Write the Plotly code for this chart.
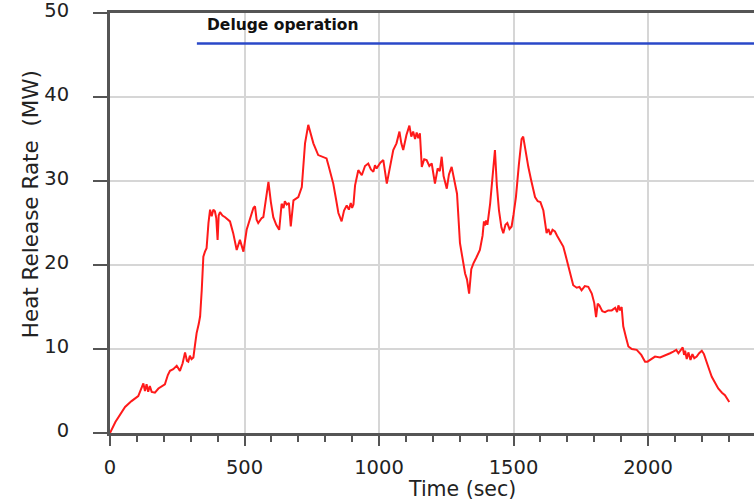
import plotly.graph_objects as go

# Heat release rate history of the fire test
time_s = [
    0, 20, 56, 80, 105, 118, 124, 130, 136, 142, 148, 155, 167, 180, 192, 204, 215, 223, 235, 248,
    260, 270, 279, 286, 291, 297, 303, 310, 316, 322, 330, 335, 341, 347, 353, 359, 366, 372, 378, 384,
    390, 395, 400, 404, 409, 418, 428, 446, 458, 471, 483, 490, 496, 508, 520, 533, 539, 545, 551, 564,
    570, 580, 589, 598, 607, 618, 629, 638, 645, 650, 657, 665, 672, 682, 700, 713, 725, 737, 745, 756,
    774, 793, 805, 812, 820, 830, 840, 849, 861, 870, 880, 888, 895, 900, 905, 911, 923, 936, 948, 960,
    970, 979, 985, 991, 1005, 1016, 1029, 1040, 1053, 1065, 1076, 1083, 1090, 1102, 1113, 1120, 1127, 1134, 1140, 1146,
    1152, 1159, 1168, 1177, 1187, 1196, 1208, 1218, 1226, 1233, 1240, 1252, 1260, 1270, 1283, 1290, 1301, 1310, 1320, 1327,
    1335, 1343, 1351, 1362, 1375, 1385, 1390, 1394, 1398, 1403, 1413, 1422, 1431, 1438, 1446, 1455, 1462, 1470, 1477, 1485,
    1493, 1500, 1509, 1520, 1530, 1536, 1545, 1555, 1565, 1580, 1590, 1600, 1611, 1617, 1623, 1630, 1637, 1645, 1654, 1662,
    1670, 1685, 1695, 1704, 1712, 1722, 1735, 1745, 1753, 1765, 1778, 1791, 1800, 1807, 1813, 1819, 1830, 1840, 1852, 1865,
    1878, 1885, 1890, 1896, 1902, 1908, 1918, 1927, 1940, 1958, 1975, 1989, 1998, 2010, 2026, 2045, 2063, 2082, 2094, 2105,
    2113, 2122, 2129, 2134, 2138, 2144, 2150, 2158, 2165, 2172, 2181, 2190, 2200, 2208, 2218, 2228, 2237, 2248, 2261, 2275,
    2286, 2302,
]
hrr_mw = [
    0.0, 1.3, 3.1, 3.8, 4.4, 5.3, 5.9, 5.0, 5.8, 4.9, 5.6, 4.9, 4.8, 5.3, 5.6, 5.8, 6.9, 7.4, 7.6, 8.0,
    7.4, 8.3, 9.6, 8.6, 8.5, 9.2, 8.8, 9.0, 10.5, 11.9, 13.0, 13.9, 17.0, 21.0, 21.6, 22.0, 25.0, 26.6, 25.8, 26.6,
    26.4, 25.6, 23.0, 25.9, 26.3, 25.9, 25.7, 25.2, 23.8, 21.8, 23.0, 22.3, 21.6, 24.2, 25.5, 26.8, 27.0, 25.4, 25.0, 25.6,
    25.7, 27.8, 29.9, 27.5, 25.7, 24.8, 24.2, 27.3, 26.8, 27.6, 27.2, 27.4, 24.6, 27.7, 28.1, 29.3, 34.5, 36.7, 35.8, 34.5,
    33.1, 32.9, 32.7, 31.9, 31.0, 29.7, 27.9, 26.2, 25.2, 26.5, 27.1, 26.6, 27.4, 26.8, 27.2, 29.5, 31.3, 30.7, 31.8, 32.1,
    31.4, 31.1, 31.9, 31.5, 32.2, 32.5, 29.7, 31.5, 33.7, 34.5, 35.9, 34.5, 33.7, 35.5, 36.6, 35.3, 35.9, 35.0, 35.8, 35.1,
    35.7, 31.7, 32.6, 32.5, 31.8, 32.1, 29.7, 31.5, 31.2, 32.9, 30.6, 29.1, 30.8, 31.7, 29.7, 28.5, 22.6, 20.7, 19.0, 18.3,
    16.6, 19.5, 20.2, 20.9, 21.8, 23.5, 25.2, 24.7, 25.3, 24.8, 27.3, 30.5, 33.7, 29.5, 26.5, 24.5, 23.8, 24.8, 25.0, 24.3,
    24.6, 26.0, 28.1, 32.0, 35.0, 35.3, 33.5, 31.7, 30.2, 28.1, 27.6, 27.5, 26.5, 25.0, 23.8, 24.3, 23.6, 24.2, 24.0, 23.5,
    23.0, 22.2, 21.0, 19.8, 18.7, 17.6, 17.3, 17.4, 17.0, 17.5, 17.4, 16.6, 15.5, 13.8, 15.4, 15.2, 14.5, 14.4, 14.6, 14.6,
    14.9, 14.4, 15.2, 14.6, 15.0, 12.7, 11.4, 10.3, 10.0, 9.9, 9.3, 8.5, 8.5, 8.8, 9.1, 9.0, 9.2, 9.5, 9.7, 9.9,
    9.5, 9.9, 10.2, 9.3, 9.8, 8.8, 9.6, 8.7, 9.4, 8.9, 9.1, 9.5, 9.8, 9.4, 8.3, 7.5, 6.7, 6.0, 5.3, 4.8,
    4.5, 3.7,
]

# Deluge system active period
deluge_time = [323, 2394]
deluge_level = [46.4, 46.4]
deluge_label = "Deluge operation"

x_ticks = [0, 500, 1000, 1500, 2000]
y_ticks = [0, 10, 20, 30, 40, 50]

FONT = "DejaVu Sans"
TEXT = "#222222"
AXIS = "#555555"
GRID = "#d6d6d6"

fig = go.Figure()

fig.add_trace(go.Scatter(
    x=time_s, y=hrr_mw, mode="lines",
    line=dict(color="#ff1a1a", width=2),
    showlegend=False, hoverinfo="skip", cliponaxis=False,
))

fig.add_trace(go.Scatter(
    x=deluge_time, y=deluge_level, mode="lines",
    line=dict(color="#2a48c8", width=2.5),
    showlegend=False, hoverinfo="skip",
))

fig.add_annotation(
    x=353, y=48.6, xref="x", yref="y", text=deluge_label, showarrow=False,
    xanchor="left", yanchor="middle",
    font=dict(family=FONT, size=15.5, color="#111111", weight="bold"),
)

# Axis titles
fig.add_annotation(
    x=0.5466, y=-0.1335, xref="paper", yref="paper", text="Time (sec)",
    showarrow=False, xanchor="center", yanchor="middle",
    font=dict(family=FONT, size=20.5, color=TEXT),
)
fig.add_annotation(
    x=-0.124, y=0.545, xref="paper", yref="paper", text="Heat Release Rate  (MW)",
    showarrow=False, xanchor="center", yanchor="middle", textangle=-90,
    font=dict(family=FONT, size=21.5, color=TEXT),
)

fig.update_xaxes(
    range=[0, 2394], tickvals=x_ticks, ticktext=[str(v) for v in x_ticks],
    showline=True, linecolor=AXIS, linewidth=3, mirror=True,
    ticks="outside", ticklen=10, tickwidth=2, tickcolor=AXIS,
    minor=dict(dtick=100, ticks="outside", ticklen=6, tickwidth=2, tickcolor=AXIS, showgrid=False),
    showgrid=True, gridcolor=GRID, gridwidth=2,
    tickfont=dict(family=FONT, size=19.5, color=TEXT),
    ticklabelstandoff=5, ticklabeloverflow="allow", zeroline=False, fixedrange=True,
)
fig.update_yaxes(
    range=[0, 50.02], tickvals=y_ticks, ticktext=[str(v) for v in y_ticks],
    showline=True, linecolor=AXIS, linewidth=3,
    ticks="outside", ticklen=14, tickwidth=2, tickcolor=AXIS,
    showgrid=True, gridcolor=GRID, gridwidth=2,
    tickfont=dict(family=FONT, size=19.5, color=TEXT),
    ticklabelstandoff=20, ticklabelshift=-3, ticklabeloverflow="allow",
    zeroline=False, fixedrange=True,
)

fig.update_layout(
    width=754, height=504,
    margin=dict(l=110, r=0, t=13, b=71, pad=0),
    plot_bgcolor="white", paper_bgcolor="white",
    showlegend=False,
)

fig.write_html("out.html")
